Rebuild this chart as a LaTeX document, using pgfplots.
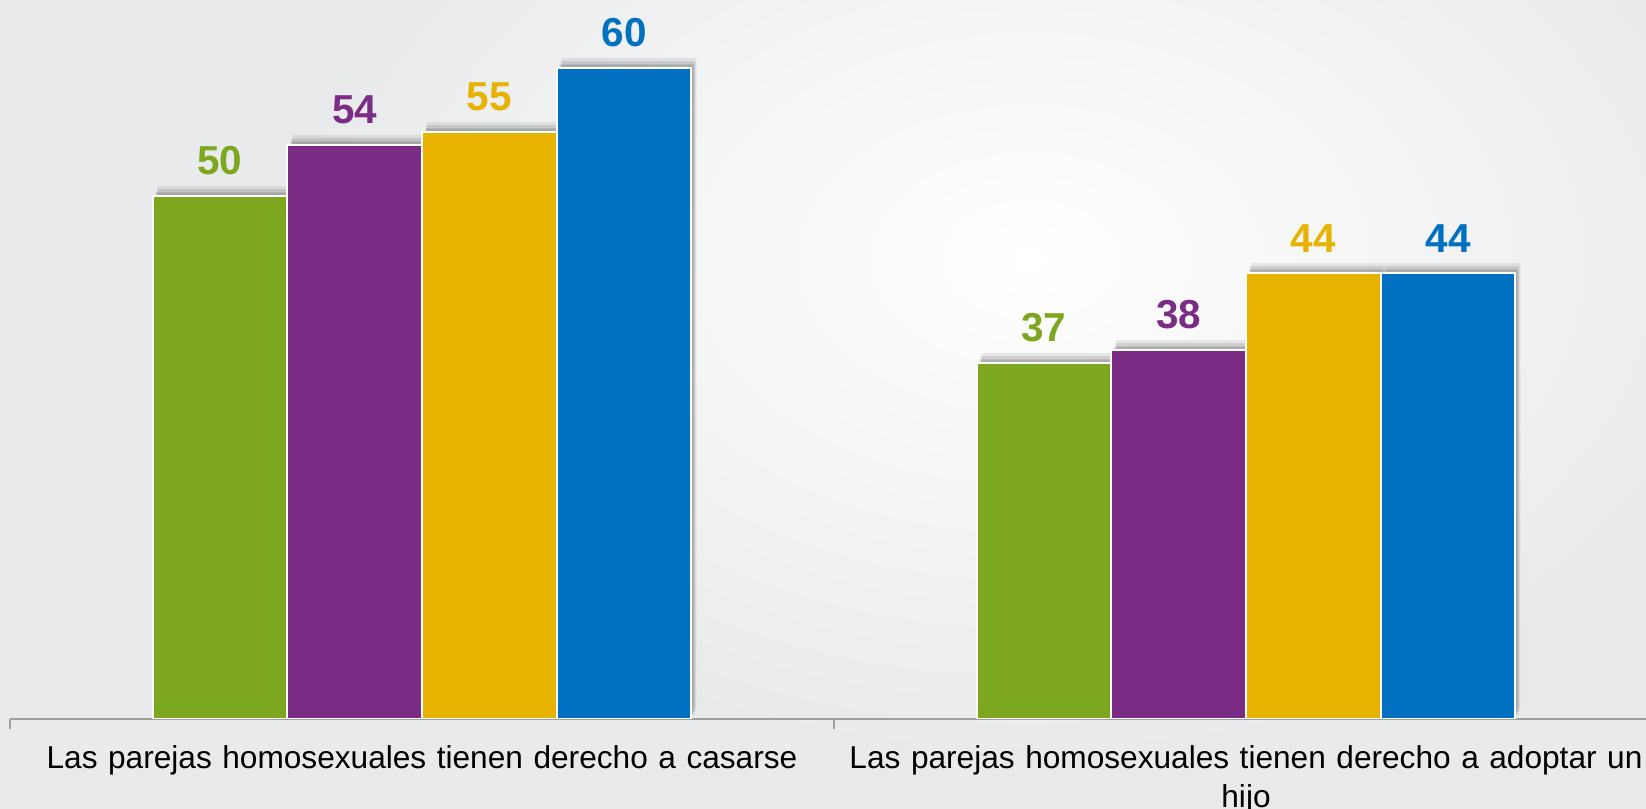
\documentclass[border=0pt]{standalone}
\usepackage{fontspec}
\setmainfont{Liberation Sans}
\usepackage{pgfplots}
\pgfplotsset{compat=1.18}

\definecolor{cgreen}{HTML}{7CA71F}
\definecolor{cpurple}{HTML}{7B2C85}
\definecolor{cyellow}{HTML}{E8B200}
\definecolor{cblue}{HTML}{0070C0}
\definecolor{bggray}{HTML}{E9EAEC}
\definecolor{axisgray}{HTML}{A0A0A0}

\begin{document}
\begin{tikzpicture}
\path[use as bounding box] (0,0) rectangle (16.46,8.09);
\clip (0,0) rectangle (16.46,8.09);
\fill[bggray] (0,0) rectangle (16.46,8.09);
\shade[inner color=white, outer color=bggray] (10.3,5.5) ellipse (7.5cm and 5cm);

\begin{axis}[
  at={(0.10cm,0.90cm)}, anchor=south west,
  scale only axis, width=16.48cm, height=7.19cm,
  xmin=-0.5, xmax=1.5, ymin=9.25, ymax=65.3,
  ybar=0pt, bar width=1.347cm,
  axis x line*=bottom, axis y line=none,
  x axis line style={-, draw=axisgray, line width=0.7pt},
  xtick={0,1},
  xticklabels={{Las parejas homosexuales tienen derecho a casarse},
               {Las parejas homosexuales tienen derecho a adoptar un\\hijo}},
  major x tick style={draw=none},
  minor xtick={-0.5,0.5,1.5}, minor tick length=0.1cm, tick align=outside,
  minor x tick style={draw=axisgray, line width=0.5pt},
  xticklabel style={text width=8.3cm, align=center,
    font=\fontsize{9}{11.2}\selectfont, yshift=0.01cm},
  /pgf/number format/assume math mode=true,
  nodes near coords,
  every node near coord/.append style={font=\bfseries\fontsize{11.5}{12}\selectfont,
    inner sep=0pt, yshift=0.2cm},
  every axis plot/.append style={draw=white, line width=0.6pt,
    preaction={fill=black, opacity=0.08, transform canvas={xshift=0.05cm, yshift=0.10cm}},
    preaction={fill=black, opacity=0.11, transform canvas={xshift=0.04cm, yshift=0.07cm}},
    preaction={fill=black, opacity=0.14, transform canvas={xshift=0.03cm, yshift=0.04cm}}},
]
\addplot[fill=cgreen, every node near coord/.append style={text=cgreen}]
  coordinates {(0,50) (1,37)};
\addplot[fill=cpurple, every node near coord/.append style={text=cpurple}]
  coordinates {(0,54) (1,38)};
\addplot[fill=cyellow, every node near coord/.append style={text=cyellow}]
  coordinates {(0,55) (1,44)};
\addplot[fill=cblue, every node near coord/.append style={text=cblue}]
  coordinates {(0,60) (1,44)};
\end{axis}
\end{tikzpicture}
\end{document}
